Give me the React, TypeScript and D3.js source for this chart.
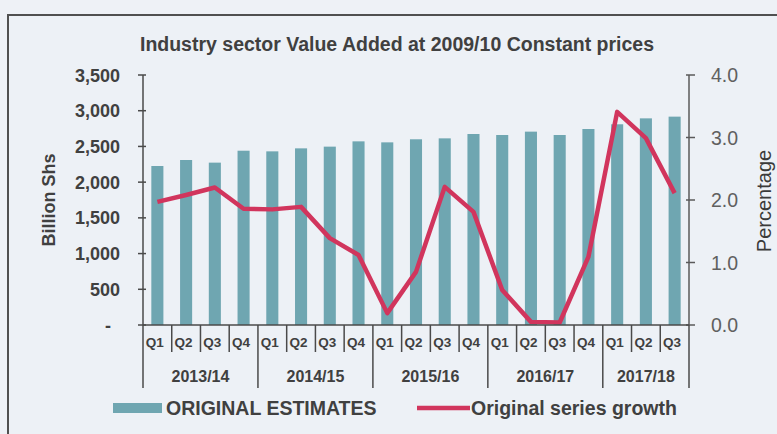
import React from "react";
import * as d3 from "d3";

const quarters = ["Q1","Q2","Q3","Q4","Q1","Q2","Q3","Q4","Q1","Q2","Q3","Q4","Q1","Q2","Q3","Q4","Q1","Q2","Q3"];
const years = ["2013/14","2014/15","2015/16","2016/17","2017/18"];
const yearCounts = [4, 4, 4, 4, 3];
const estimates = [2226, 2310, 2273, 2440, 2431, 2473, 2497, 2571, 2557, 2600, 2613, 2674, 2660, 2707, 2660, 2744, 2810, 2893, 2917];
const growth = [1.97, 2.08, 2.20, 1.86, 1.85, 1.89, 1.39, 1.12, 0.19, 0.85, 2.21, 1.81, 0.56, 0.05, 0.04, 1.09, 3.41, 2.99, 2.11];
const leftTicks = [0, 500, 1000, 1500, 2000, 2500, 3000, 3500];
const rightTicks = [0, 1, 2, 3, 4];

const W = 777, H = 434;
const X0 = 143, X1 = 689, Y0 = 325, Y1 = 75;
const TEXT = "#404040";
const BAR = "#6fa6b1";
const LINE = "#d1355d";
const FONT = "Liberation Sans, Arial, sans-serif";

export default function App() {
  const ids = quarters.map((_, i) => String(i));
  const x = d3.scaleBand<string>().domain(ids).range([X0, X1]).paddingInner(0.58).paddingOuter(0.29);
  const step = x.step();
  const yL = d3.scaleLinear().domain([0, 3500]).range([Y0, Y1]);
  const yR = d3.scaleLinear().domain([0, 4]).range([Y0, Y1]);
  const cx = (i: number) => (x(String(i)) as number) + x.bandwidth() / 2;
  const line = d3.line<number>().x((_, i) => cx(i)).y((d) => yR(d));
  const fmt = d3.format(",");

  const groupEdges: number[] = [0];
  yearCounts.forEach((c) => groupEdges.push(groupEdges[groupEdges.length - 1] + c));

  return (
    <div style={{ position: "fixed", left: 0, top: 0, width: W, height: H, background: "#eef1f6" }}>
      <svg width={W} height={H} style={{ display: "block", fontFamily: FONT }}>
        <rect x={0} y={0} width={W} height={H} fill="#eef1f6" />
        <rect x={8} y={15} width={W} height={H} fill="#edf1f6" stroke="#505050" strokeWidth={2} />
        <text x={397} y={50.5} textAnchor="middle" fontSize={19.5} fontWeight="bold" fill={TEXT}>
          Industry sector Value Added at 2009/10 Constant prices
        </text>

        {estimates.map((v, i) => (
          <rect key={i} x={x(String(i))} y={yL(v)} width={x.bandwidth()} height={Y0 - yL(v)} fill={BAR} />
        ))}
        <path d={line(growth) || ""} fill="none" stroke={LINE} strokeWidth={4.5} strokeLinejoin="round" />

        {/* left axis */}
        <line x1={X0} x2={X0} y1={Y1} y2={Y0} stroke="#4a4a4a" strokeWidth={1.5} />
        {leftTicks.map((t) => (
          <g key={t}>
            <line x1={X0 - 5} x2={X0 + 3} y1={yL(t)} y2={yL(t)} stroke="#4a4a4a" strokeWidth={1.5} />
            <text x={t === 0 ? 111 : 120} y={yL(t) + 6.5} textAnchor="end" fontSize={18} fontWeight="bold" fill={TEXT}>
              {t === 0 ? "-" : fmt(t)}
            </text>
          </g>
        ))}
        <text transform={`translate(55,200) rotate(-90)`} textAnchor="middle" fontSize={18} fontWeight="bold" fill={TEXT}>
          Billion Shs
        </text>

        {/* right axis */}
        <line x1={X1} x2={X1} y1={Y1} y2={Y0} stroke="#5a5a5a" strokeWidth={1.5} />
        {rightTicks.map((t) => (
          <g key={t}>
            <line x1={X1 - 3} x2={X1 + 6} y1={yR(t)} y2={yR(t)} stroke="#5a5a5a" strokeWidth={1.5} />
            <text x={711} y={yR(t) + 7} textAnchor="start" fontSize={19.5} fill="#606060">
              {t.toFixed(1)}
            </text>
          </g>
        ))}
        <text transform={`translate(771,201) rotate(-90)`} textAnchor="middle" fontSize={20} fill="#3a3a3a">
          Percentage
        </text>

        {/* category axis */}
        <line x1={X0} x2={X1} y1={Y0} y2={Y0} stroke="#4a4a4a" strokeWidth={1.5} />
        {quarters.map((q, i) => (
          <g key={i}>
            {i > 0 && !groupEdges.includes(i) && (
              <line x1={X0 + step * i} x2={X0 + step * i} y1={Y0} y2={352} stroke="#4a4a4a" strokeWidth={1.5} />
            )}
            <text x={cx(i) - 2.5} y={346.5} textAnchor="middle" fontSize={13.5} fontWeight="bold" fill={TEXT}>
              {q}
            </text>
          </g>
        ))}
        {groupEdges.map((g, k) => (
          <line key={k} x1={X0 + step * g} x2={X0 + step * g} y1={Y0} y2={388} stroke="#4a4a4a" strokeWidth={1.5} />
        ))}
        {years.map((yr, k) => (
          <text key={yr} x={X0 + step * (groupEdges[k] + groupEdges[k + 1]) / 2} y={381.5} textAnchor="middle" fontSize={16} fontWeight="bold" fill={TEXT}>
            {yr}
          </text>
        ))}

        {/* legend */}
        <rect x={113} y={403} width={49} height={10} fill={BAR} />
        <text x={166} y={415} fontSize={19.5} fontWeight="bold" fill={TEXT}>ORIGINAL ESTIMATES</text>
        <line x1={417} x2={470} y1={408} y2={408} stroke={LINE} strokeWidth={4.5} />
        <text x={471} y={415} fontSize={19.5} fontWeight="bold" fill={TEXT}>Original series growth</text>
      </svg>
    </div>
  );
}
